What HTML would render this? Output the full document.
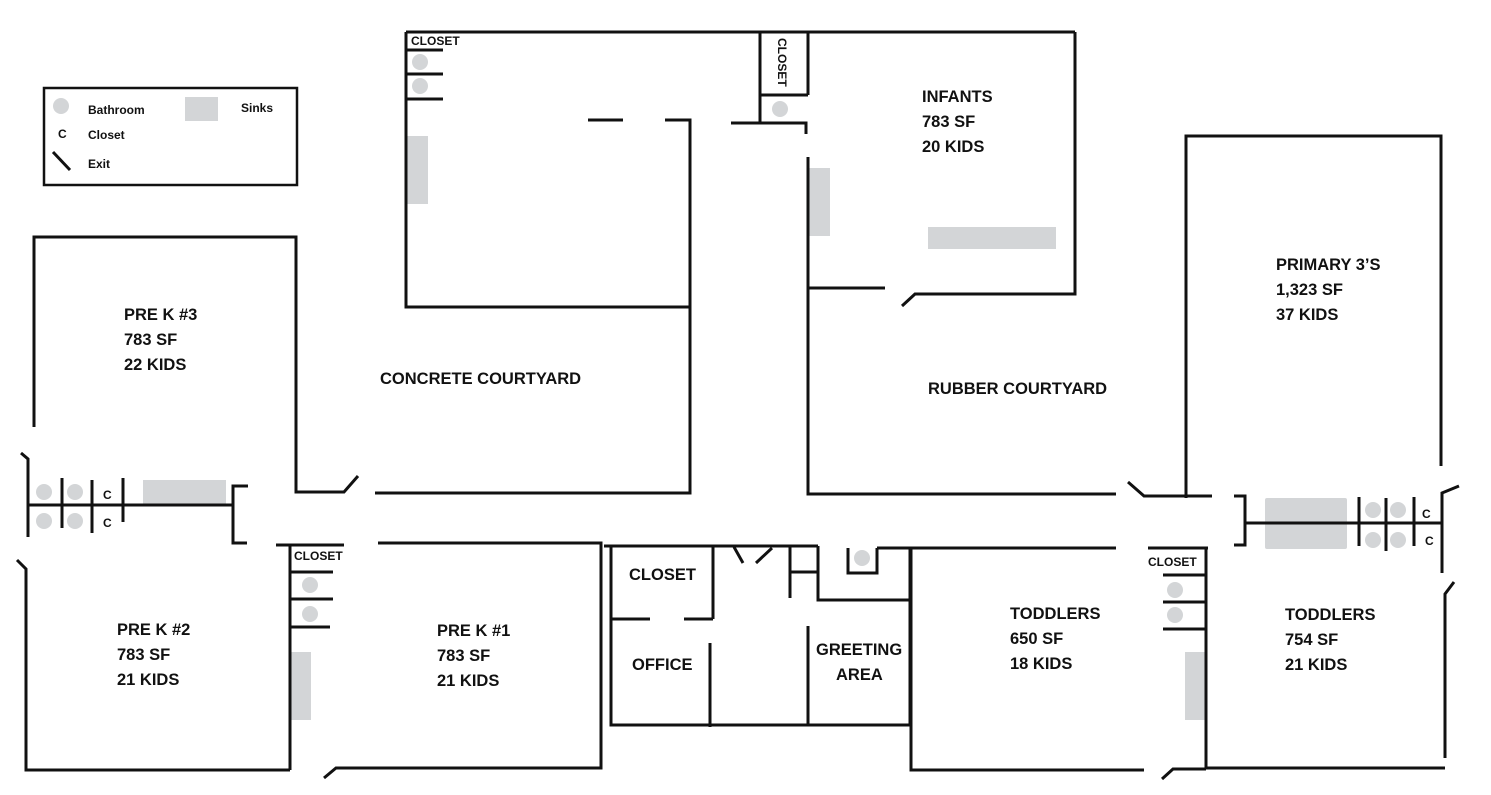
<!DOCTYPE html>
<html><head><meta charset="utf-8"><style>
body{margin:0;background:#fff}
svg{display:block}
text{font-family:"Liberation Sans",sans-serif;font-weight:bold;fill:#111}
.l{font-size:16.5px}
.s{font-size:12px}
</style></head><body>
<svg width="1491" height="795" viewBox="0 0 1491 795" xmlns="http://www.w3.org/2000/svg">
<g fill="#d3d5d7">
<!-- legend -->
<circle cx="61" cy="106" r="8"/><rect x="185" y="97" width="33" height="24"/>
<!-- top-left closet/sinks -->
<circle cx="420" cy="62" r="8"/><circle cx="420" cy="86" r="8"/>
<rect x="406" y="136" width="22" height="68"/>
<circle cx="780" cy="109" r="8"/>
<rect x="809" y="168" width="21" height="68"/>
<rect x="928" y="227" width="128" height="22"/>
<!-- left strip -->
<circle cx="44" cy="492" r="8"/><circle cx="75" cy="492" r="8"/><circle cx="44" cy="521" r="8"/><circle cx="75" cy="521" r="8"/>
<rect x="143" y="480" width="83" height="24"/>
<circle cx="310" cy="585" r="8"/><circle cx="310" cy="614" r="8"/>
<rect x="291" y="652" width="20" height="68"/>
<circle cx="862" cy="558" r="8"/>
<!-- right strip -->
<rect x="1265" y="498" width="82" height="51" rx="2"/>
<circle cx="1373" cy="510" r="8"/><circle cx="1398" cy="510" r="8"/><circle cx="1373" cy="540" r="8"/><circle cx="1398" cy="540" r="8"/>
<circle cx="1175" cy="590" r="8"/><circle cx="1175" cy="615" r="8"/>
<rect x="1185" y="652" width="20" height="68"/>
</g>
<g stroke="#111" stroke-width="3" fill="none">
<!-- legend -->
<rect x="44" y="88" width="253" height="97" stroke-width="2.5"/>
<line x1="53" y1="152" x2="70" y2="170"/>
<!-- top left room -->
<polyline points="406,32 406,307 690,307"/>
<line x1="406" y1="32" x2="1075" y2="32"/>
<line x1="406" y1="50" x2="443" y2="50"/><line x1="406" y1="74" x2="443" y2="74"/><line x1="406" y1="99" x2="443" y2="99"/>
<line x1="588" y1="120" x2="623" y2="120"/>
<polyline points="665,120 690,120 690,493 375,493"/>
<!-- closet vertical -->
<line x1="760" y1="32" x2="760" y2="123"/><line x1="808" y1="32" x2="808" y2="95"/><line x1="760" y1="95" x2="808" y2="95"/>
<polyline points="731,123 806,123 806,134"/>
<!-- infants -->
<polyline points="1075,32 1075,294 915,294 902,306"/>
<polyline points="808,157 808,494 1116,494"/>
<line x1="808" y1="288" x2="885" y2="288"/>
<!-- primary -->
<polyline points="1128,482 1144,496 1212,496"/>
<polyline points="1186,498 1186,136 1441,136 1441,466"/>
<!-- right strip -->
<polyline points="1234,496 1245,496 1245,545 1234,545"/>
<line x1="1245" y1="523" x2="1442" y2="523"/>
<line x1="1359" y1="497" x2="1359" y2="546"/><line x1="1386" y1="498" x2="1386" y2="551"/><line x1="1414" y1="497" x2="1414" y2="546"/>
<polyline points="1459,486 1442,493 1442,573"/>
<polyline points="1454,582 1445,594 1445,758"/>
<!-- toddlers right -->
<line x1="1148" y1="548" x2="1208" y2="548"/>
<line x1="1206" y1="548" x2="1206" y2="769"/>
<line x1="1163" y1="575" x2="1206" y2="575"/><line x1="1163" y1="602" x2="1206" y2="602"/><line x1="1163" y1="629" x2="1206" y2="629"/>
<line x1="1206" y1="768" x2="1445" y2="768"/>
<polyline points="1162,779 1173,769 1206,769"/>
<!-- toddlers 650 -->
<polyline points="877,548 1116,548"/>
<polyline points="911,548 911,770 1144,770"/>
<!-- pre k 3 -->
<polyline points="34,427 34,237 296,237 296,492 344,492 358,476"/>
<!-- left strip -->
<polyline points="21,453 28,459 28,537"/>
<line x1="28" y1="505" x2="233" y2="505"/>
<line x1="62" y1="478" x2="62" y2="528"/><line x1="92" y1="480" x2="92" y2="533"/><line x1="123" y1="478" x2="123" y2="522"/>
<polyline points="248,486 233,486 233,543 247,543"/>
<!-- pre k 2 -->
<polyline points="17,560 26,569 26,770 290,770"/>
<line x1="276" y1="545" x2="344" y2="545"/>
<line x1="290" y1="545" x2="290" y2="770"/>
<line x1="290" y1="572" x2="333" y2="572"/><line x1="290" y1="599" x2="333" y2="599"/><line x1="290" y1="627" x2="330" y2="627"/>
<!-- pre k 1 -->
<polyline points="378,543 601,543 601,768 336,768 324,778"/>
<!-- office block -->
<line x1="604" y1="546" x2="818" y2="546"/>
<polyline points="611,546 611,725 910,725"/>
<line x1="713" y1="546" x2="713" y2="619"/>
<line x1="611" y1="619" x2="650" y2="619"/><line x1="684" y1="619" x2="713" y2="619"/>
<line x1="734" y1="547" x2="743" y2="563"/><line x1="756" y1="563" x2="772" y2="548"/>
<line x1="790" y1="546" x2="790" y2="598"/>
<line x1="790" y1="572" x2="818" y2="572"/>
<polyline points="818,546 818,600 910,600"/>
<polyline points="848,548 848,573 877,573 877,548"/>
<line x1="910" y1="548" x2="910" y2="725"/>
<line x1="710" y1="643" x2="710" y2="727"/>
<line x1="808" y1="626" x2="808" y2="725"/>
</g>
<!-- text -->
<text class="s" x="88" y="114">Bathroom</text>
<text class="s" x="241" y="112">Sinks</text>
<text class="s" x="58" y="138">C</text>
<text class="s" x="88" y="139">Closet</text>
<text class="s" x="88" y="168">Exit</text>
<text class="s" x="411" y="45">CLOSET</text>
<text class="s" x="294" y="560">CLOSET</text>
<text class="s" x="1148" y="566">CLOSET</text>
<text class="s" transform="translate(778,38) rotate(90)">CLOSET</text>
<text class="s" x="103" y="499">C</text><text class="s" x="103" y="527">C</text>
<text class="s" x="1422" y="518">C</text><text class="s" x="1425" y="545">C</text>
<g class="l">
<text class="l" x="922" y="102">INFANTS</text><text class="l" x="922" y="127">783 SF</text><text class="l" x="922" y="152">20 KIDS</text>
<text class="l" x="1276" y="270">PRIMARY 3’S</text><text class="l" x="1276" y="295">1,323 SF</text><text class="l" x="1276" y="320">37 KIDS</text>
<text class="l" x="124" y="320">PRE K #3</text><text class="l" x="124" y="345">783 SF</text><text class="l" x="124" y="370">22 KIDS</text>
<text class="l" x="380" y="384">CONCRETE COURTYARD</text>
<text class="l" x="928" y="394">RUBBER COURTYARD</text>
<text class="l" x="117" y="635">PRE K #2</text><text class="l" x="117" y="660">783 SF</text><text class="l" x="117" y="685">21 KIDS</text>
<text class="l" x="437" y="636">PRE K #1</text><text class="l" x="437" y="661">783 SF</text><text class="l" x="437" y="686">21 KIDS</text>
<text class="l" x="1010" y="619">TODDLERS</text><text class="l" x="1010" y="644">650 SF</text><text class="l" x="1010" y="669">18 KIDS</text>
<text class="l" x="1285" y="620">TODDLERS</text><text class="l" x="1285" y="645">754 SF</text><text class="l" x="1285" y="670">21 KIDS</text>
<text class="l" x="629" y="580">CLOSET</text>
<text class="l" x="632" y="670">OFFICE</text>
<text class="l" x="816" y="655">GREETING</text><text class="l" x="836" y="680">AREA</text>
</g>
</svg>
</body></html>
